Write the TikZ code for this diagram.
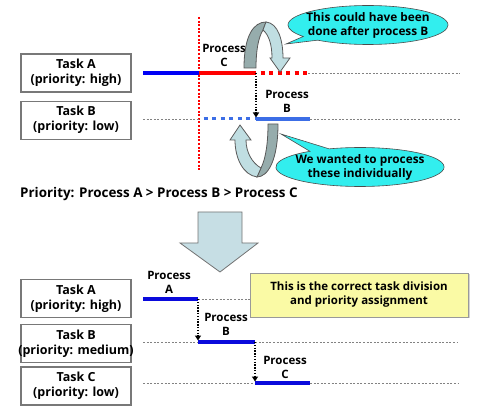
\documentclass[tikz,border=0pt]{standalone}
\usepackage{fontspec}
\setmainfont{Open Sans}
\usetikzlibrary{positioning,calc,shapes.callouts,arrows.meta,shadows}

\definecolor{ablue}{RGB}{0,0,245}
\definecolor{bblue}{RGB}{60,110,230}
\definecolor{cblue}{RGB}{10,10,220}
\definecolor{calloutcyan}{RGB}{50,238,238}
\definecolor{ribbondark}{RGB}{150,172,172}
\definecolor{ribbonlight}{RGB}{192,222,226}
\definecolor{arrowfill}{RGB}{198,222,228}
\definecolor{noteyellow}{RGB}{250,250,165}
\definecolor{idlegray}{RGB}{130,130,130}
\definecolor{boxgray}{RGB}{120,120,120}

\begin{document}
\begin{tikzpicture}[
      x=1pt, y=-1pt,
      font=\bfseries\fontsize{11.5}{14}\selectfont,
      task/.style={rectangle, draw=boxgray, line width=1.2pt, fill=white, minimum width=110pt, minimum height=38pt, align=center, inner sep=0pt, font=\bfseries\fontsize{12.5}{15}\selectfont},
      plabel/.style={align=center, inner sep=0pt},
      idle/.style={draw=idlegray, line width=0.9pt, dash pattern=on 2pt off 1.6pt},
      run/.style={line width=3.6pt},
      spotty/.style={dash pattern=on 4pt off 4.5pt, dash phase=4pt},
      hop/.style={draw=black, line width=1.4pt, dash pattern=on 1.4pt off 1.4pt, -{Triangle[width=6pt,length=5pt]}, shorten >=1.5pt},
      bubble/.style={ellipse callout, draw=black!70, line width=0.6pt, fill=calloutcyan, align=center, inner sep=-5pt, minimum width=152pt, minimum height=39pt, font=\bfseries\fontsize{11.8}{14}\selectfont},
      ribbonback/.style={draw=black!65, fill=ribbondark, line width=0.8pt},
      ribbonfront/.style={draw=black!65, fill=ribbonlight, line width=0.8pt}
    ]
    \useasboundingbox (0,0) rectangle (480,409);

    % before: two tasks
    \node[task] (tA) at (76,73) {Task A\\(priority: high)};
    \node[task, below=8pt of tA] (tB) {Task B\\(priority: low)};

    \coordinate (cutT) at (199,17);
    \coordinate (cutB) at (199,170);
    \draw[red, line width=2pt, dash pattern=on 2pt off 1.6pt] (cutT) -- (cutB);

    \coordinate (a0) at (143,73);
    \coordinate (a1) at (199,73);
    \coordinate (a2) at (256,73);
    \coordinate (a3) at (308,73);
    \coordinate (a4) at (460,73);
    \coordinate (b0) at (143,119);
    \coordinate (b1) at (199,119);
    \coordinate (b2) at (256,119);
    \coordinate (b3) at (310,119);
    \coordinate (b4) at (460,119);

    \draw[idle] (a3) -- (a4);
    \draw[run, ablue] (a0) -- (a1);
    \draw[run, red] (a1) -- (a2);
    \draw[run, red, spotty] (a2) -- (a3);
    \draw[idle] (b0) -- (b1);
    \draw[idle] (b3) -- (b4);
    \draw[run, bblue, line width=3pt, spotty] (b1) -- (b2);
    \draw[run, bblue] (b2) -- (b3);
    \draw[hop] (a2) -- (b2);

    \node[plabel] (lC) at (224,55) {Process\\C};
    \node[plabel] (lB) at (287,101) {Process\\B};

    \node[bubble, callout absolute pointer={(286,44)}] (say1) at (368,25) {This could have been\\done after process B};
    \node[bubble, callout absolute pointer={(281,134)}] (say2) at (360,167) {We wanted to process\\these individually};

    % twisted arrows
    \draw[ribbonback] (244,68) .. controls (244,35) and (254,22) .. (266,22)
      -- (263,30) .. controls (258,38) and (256,52) .. (256,68) -- cycle;
    \draw[ribbonfront] (266,22) .. controls (278,23) and (283,40) .. (283,58)
      -- (290,58) -- (280,72) -- (270,58) -- (272,58)
      .. controls (272,45) and (269,35) .. (263,30) -- cycle;
    \draw[ribbonback] (278,124) .. controls (278,160) and (268,177) .. (257,177)
      -- (261,168) .. controls (266,158) and (268,142) .. (268,124) -- cycle;
    \draw[ribbonfront] (257,177) .. controls (243,175) and (235,158) .. (235,140)
      -- (230,140) -- (240,125) -- (251,140) -- (246,140)
      .. controls (246,152) and (252,163) .. (261,168) -- cycle;

    \node[anchor=west, inner sep=0pt, font=\bfseries\fontsize{13.4}{16}\selectfont] (prio) at (20,194) {Priority: Process A > Process B > Process C};

    \draw[draw=black!55, fill=arrowfill, line width=0.8pt] (198,212) -- (242,212) -- (242,243)
      -- (258,243) -- (220,272) -- (180,243) -- (198,243) -- cycle;

    % after: three tasks
    \node[task] (uA) at (76,298.5) {Task A\\(priority: high)};
    \node[task, below=6pt of uA] (uB) {Task B\\\makebox[104pt]{(priority: medium)}};
    \node[task, below=3pt of uB] (uC) {Task C\\(priority: low)};

    \coordinate (p0) at (143,299);
    \coordinate (p1) at (198,299);
    \coordinate (p2) at (458,299);
    \coordinate (q0) at (143,342);
    \coordinate (q1) at (198,342);
    \coordinate (q2) at (255,342);
    \coordinate (q3) at (458,342);
    \coordinate (r0) at (143,383);
    \coordinate (r1) at (255,383);
    \coordinate (r2) at (310,383);
    \coordinate (r3) at (458,383);

    \draw[idle] (p1) -- (p2);
    \draw[idle] (q0) -- (q1);
    \draw[idle] (q2) -- (q3);
    \draw[idle] (r0) -- (r1);
    \draw[idle] (r2) -- (r3);
    \draw[run, cblue] (p0) -- (p1);
    \draw[run, cblue] (q1) -- (q2);
    \draw[run, cblue] (r1) -- (r2);
    \draw[hop] (p1) -- (q1);
    \draw[hop] (q2) -- (r1);

    \node[plabel] (mA) at (169,282.5) {Process\\A};
    \node[plabel] (mB) at (226,324.5) {Process\\B};
    \node[plabel] (mC) at (285,367) {Process\\C};

    \node[draw=black!40, fill=noteyellow, line width=0.6pt, minimum width=218pt, minimum height=44pt, align=center,
      drop shadow={opacity=0.35, shadow xshift=1.5pt, shadow yshift=-1.5pt}] (note) at (359,295)
      {This is the correct task division\\and priority assignment};
  \end{tikzpicture}
\end{document}
